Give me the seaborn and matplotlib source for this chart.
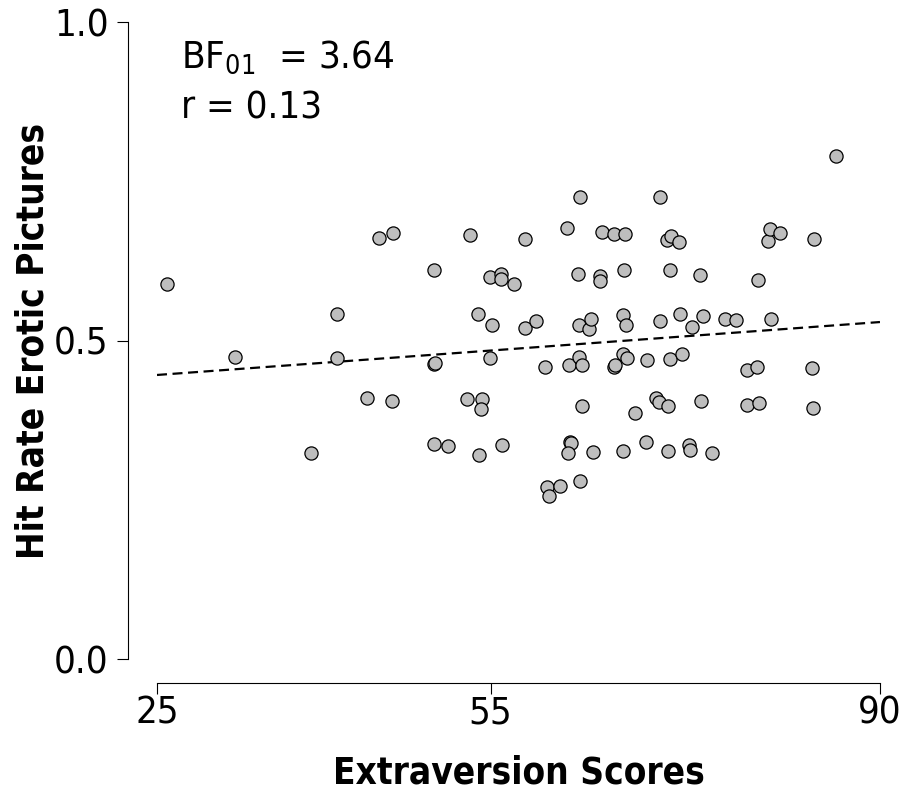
import numpy as np
import pandas as pd
import seaborn as sns
import matplotlib.pyplot as plt

# Extraversion score and hit rate for erotic pictures, one entry per participant
extraversion = [
    25.90, 31.99, 38.84, 41.16, 41.21, 43.85, 44.98, 46.19, 46.15, 49.93,
    49.93, 50.02, 49.88, 51.16, 52.87, 53.11, 53.86, 53.95, 54.19, 54.10,
    54.91, 54.96, 55.14, 55.93, 55.90, 55.99, 57.09, 58.08, 58.08, 59.04,
    59.85, 60.03, 60.24, 61.20, 61.89, 62.04, 62.10, 62.19, 61.92, 62.88,
    62.94, 62.97, 63.06, 63.18, 63.03, 63.21, 63.86, 64.02, 64.20, 64.98,
    64.85, 64.85, 66.08, 66.08, 66.20, 66.89, 67.04, 67.01, 66.89, 67.14,
    67.26, 67.94, 68.99, 69.01, 66.87, 69.83, 70.16, 70.19, 70.19, 70.85,
    70.91, 70.97, 71.09, 71.21, 71.12, 71.99, 71.96, 72.17, 72.85, 72.94,
    73.09, 73.84, 73.93, 74.09, 74.89, 76.09, 77.08, 78.01, 78.01, 79.06,
    78.97, 79.15, 79.93, 80.11, 80.20, 81.01, 84.06, 83.91, 83.95, 86.04,
]
hit_rate = [
    0.589, 0.474, 0.324, 0.542, 0.472, 0.409, 0.661, 0.669, 0.405, 0.611,
    0.463, 0.465, 0.338, 0.334, 0.408, 0.665, 0.542, 0.320, 0.408, 0.393,
    0.600, 0.473, 0.524, 0.605, 0.597, 0.336, 0.589, 0.659, 0.519, 0.531,
    0.459, 0.270, 0.256, 0.272, 0.676, 0.461, 0.341, 0.339, 0.324, 0.605,
    0.525, 0.474, 0.726, 0.398, 0.280, 0.461, 0.518, 0.534, 0.325, 0.670,
    0.601, 0.594, 0.667, 0.458, 0.461, 0.540, 0.667, 0.610, 0.479, 0.524,
    0.473, 0.386, 0.341, 0.469, 0.327, 0.409, 0.404, 0.726, 0.531, 0.658,
    0.398, 0.327, 0.471, 0.664, 0.611, 0.542, 0.654, 0.479, 0.336, 0.328,
    0.521, 0.603, 0.405, 0.539, 0.323, 0.534, 0.533, 0.454, 0.399, 0.595,
    0.458, 0.402, 0.656, 0.675, 0.534, 0.669, 0.659, 0.457, 0.394, 0.789,
]

x_ticks = [25, 55, 90]
y_ticks = [0.0, 0.5, 1.0]
bf01 = 3.64
r_value = 0.13

df = pd.DataFrame({"Extraversion Scores": extraversion,
                   "Hit Rate Erotic Pictures": hit_rate})

sns.set_style("ticks")
plt.rcParams["font.family"] = ["DejaVu Sans"]
plt.rcParams["font.stretch"] = "condensed"
plt.rcParams["text.color"] = "black"
plt.rcParams["axes.labelcolor"] = "black"
plt.rcParams["xtick.color"] = "black"
plt.rcParams["ytick.color"] = "black"

fig = plt.figure(figsize=(9.07, 7.9), dpi=100)
ax = fig.add_axes([0.1731, 0.1658, 0.7971, 0.8063])

# limits first so the regression line runs over the whole x range
ax.set_xlim(x_ticks[0], x_ticks[-1])
ax.set_ylim(y_ticks[0], y_ticks[-1])

sns.regplot(data=df, x="Extraversion Scores", y="Hit Rate Erotic Pictures",
            ax=ax, ci=None, truncate=False,
            scatter_kws={"s": 90, "color": "#BEBEBE", "edgecolor": "black",
                         "linewidths": 0.9, "alpha": 1, "zorder": 3},
            line_kws={"color": "black", "linewidth": 1.6,
                      "linestyle": (0, (4.5, 2.5)), "zorder": 2})

ax.set_xticks(x_ticks)
ax.set_yticks(y_ticks)
ax.set_xticklabels([str(t) for t in x_ticks])
ax.set_yticklabels([f"{t:.1f}" for t in y_ticks])
ax.tick_params(axis="both", labelsize=27.5, length=8, width=0.8, color="black")
ax.tick_params(axis="y", pad=6)
ax.tick_params(axis="x", pad=1.5)

sns.despine(ax=ax, offset={"left": 21, "bottom": 17}, trim=True)
for side in ["left", "bottom"]:
    ax.spines[side].set_linewidth(0.8)
    ax.spines[side].set_color("black")

ax.set_xlabel("Extraversion Scores", fontsize=26.5, fontweight="bold")
ax.set_ylabel("Hit Rate Erotic Pictures", fontsize=26.5, fontweight="bold")
ax.xaxis.set_label_coords(0.5, -0.150)
ax.yaxis.set_label_coords(-0.146, 0.5)

ax.text(0.033, 0.928, f"BF$_{{01}}$  = {bf01:.2f}", transform=ax.transAxes,
        fontsize=27.5, va="baseline", ha="left")
ax.text(0.033, 0.848, f"r = {r_value:.2f}", transform=ax.transAxes,
        fontsize=27.5, va="baseline", ha="left")

fig.savefig("out.png", dpi=100)
